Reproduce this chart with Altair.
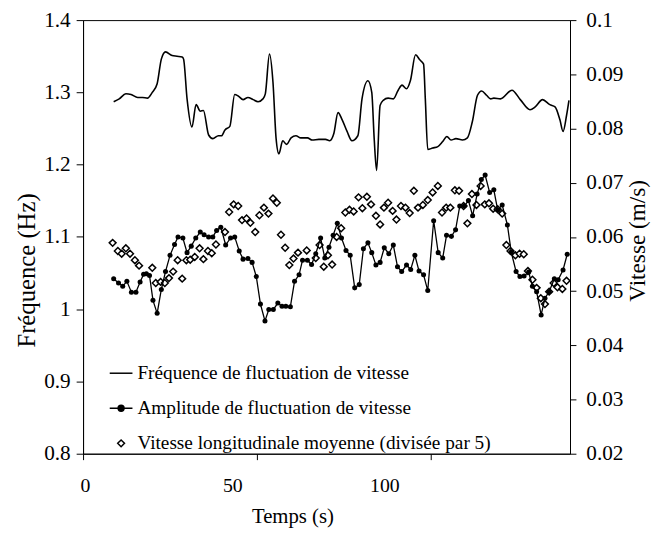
import altair as alt
import pandas as pd

# ---- data ----
freq_t = [8.8, 10.4, 12.3, 13.8, 15.7, 17.1, 18.5, 19.9, 21.3, 22.5, 23.7, 25.6, 27.0, 28.5, 28.9, 29.9,
          31.3, 32.5, 33.7, 34.6, 36.1, 37.3, 38.9, 39.8, 40.8, 42.2, 43.6, 44.6, 46.0, 47.4, 48.9, 50.3,
          51.7, 52.4, 53.6, 54.6, 55.5, 56.3, 57.4, 58.5, 59.8, 61.2, 62.6, 64.5, 65.9, 67.8, 69.7, 70.9,
          72.1, 73.3, 74.5, 75.9, 77.3, 79.0, 80.2, 81.9, 83.0, 83.7, 84.4, 85.4, 86.3, 87.7, 89.2, 90.6,
          91.7, 93.0, 94.1, 95.6, 96.8, 97.9, 98.4, 99.1, 100.5, 102.0, 103.4, 104.6, 105.8, 107.2, 109.1,
          110.5, 111.9, 113.4, 114.6, 116.0, 117.2, 118.1, 120.0, 123.3, 125.7, 128.5, 130.0, 132.1, 134.2,
          135.7, 137.1, 138.0, 139.0, 139.7]
freq_v = [1.287, 1.291, 1.298, 1.297, 1.293, 1.293, 1.292, 1.300, 1.312, 1.346, 1.356, 1.351, 1.350, 1.349,
          1.346, 1.291, 1.252, 1.283, 1.274, 1.275, 1.241, 1.236, 1.240, 1.240, 1.248, 1.253, 1.297, 1.295,
          1.290, 1.293, 1.290, 1.287, 1.291, 1.298, 1.353, 1.314, 1.236, 1.215, 1.233, 1.228, 1.237, 1.240,
          1.237, 1.237, 1.234, 1.235, 1.235, 1.233, 1.243, 1.272, 1.262, 1.246, 1.233, 1.240, 1.291, 1.316,
          1.300, 1.236, 1.192, 1.282, 1.289, 1.292, 1.291, 1.303, 1.310, 1.305, 1.316, 1.352, 1.345, 1.339,
          1.291, 1.221, 1.223, 1.225, 1.232, 1.239, 1.234, 1.236, 1.234, 1.237, 1.259, 1.296, 1.302, 1.296,
          1.291, 1.292, 1.291, 1.303, 1.290, 1.276, 1.280, 1.290, 1.283, 1.280, 1.262, 1.246, 1.268, 1.289]

amp_t = [8.8, 10.2, 11.4, 12.6, 13.9, 15.2, 16.4, 17.4, 18.2, 19.1, 20.1, 21.3, 22.5, 23.7, 25.0, 26.3,
         27.3, 28.7, 29.9, 31.1, 32.4, 33.7, 34.8, 36.1, 37.3, 38.4, 39.6, 41.0, 42.4, 43.6, 44.9, 46.0,
         47.4, 48.6, 49.8, 51.0, 52.3, 53.4, 54.7, 56.0, 57.2, 58.3, 59.6, 60.8, 62.1, 63.1, 64.5, 65.7,
         66.9, 68.3, 69.5, 70.7, 71.9, 73.1, 74.3, 75.6, 76.8, 78.1, 79.4, 80.6, 81.9, 83.0, 84.2, 85.4,
         86.6, 87.9, 89.2, 90.4, 91.6, 93.0, 94.2, 95.4, 96.6, 97.9, 99.1, 100.8, 102.1, 103.4, 104.5,
         105.9, 107.1, 108.3, 109.6, 110.8, 112.0, 113.3, 114.5, 115.6, 116.9, 118.1, 119.2, 120.5, 122.0,
         123.1, 124.5, 125.6, 126.8, 128.1, 129.2, 130.4, 131.7, 132.8, 134.0, 135.5, 136.6, 138.0, 139.2]
amp_v = [0.0523, 0.0515, 0.0509, 0.0518, 0.0498, 0.0498, 0.0517, 0.0531, 0.0532, 0.0529, 0.0483, 0.0459,
         0.0503, 0.0536, 0.0566, 0.0586, 0.0600, 0.0598, 0.0571, 0.0583, 0.0598, 0.0609, 0.0604, 0.0600,
         0.0600, 0.0612, 0.0618, 0.0585, 0.0598, 0.0600, 0.0574, 0.0559, 0.0560, 0.0553, 0.0527, 0.0476,
         0.0445, 0.0466, 0.0466, 0.0478, 0.0472, 0.0472, 0.0471, 0.0518, 0.0530, 0.0557, 0.0557, 0.0549,
         0.0569, 0.0598, 0.0561, 0.0581, 0.0603, 0.0625, 0.0598, 0.0575, 0.0566, 0.0506, 0.0512, 0.0578,
         0.0589, 0.0571, 0.0548, 0.0553, 0.0580, 0.0569, 0.0585, 0.0545, 0.0536, 0.0548, 0.0540, 0.0566,
         0.0537, 0.0530, 0.0501, 0.0630, 0.0571, 0.0561, 0.0603, 0.0601, 0.0613, 0.0657, 0.0657, 0.0667,
         0.0639, 0.0679, 0.0706, 0.0714, 0.0682, 0.0687, 0.0650, 0.0659, 0.0622, 0.0572, 0.0536, 0.0527,
         0.0528, 0.0535, 0.0509, 0.0499, 0.0456, 0.0487, 0.0499, 0.0523, 0.0521, 0.0539, 0.0568]

vit_t = [8.5, 10.0, 11.1, 12.3, 13.5, 14.9, 16.1, 19.9, 20.9, 22.3, 23.5, 24.7, 25.9, 27.2, 28.5, 29.7,
         30.8, 32.1, 33.5, 34.6, 35.9, 37.0, 38.2, 40.8, 42.0, 43.3, 44.6, 45.7, 47.0, 48.1, 49.5, 50.7,
         52.0, 53.3, 54.6, 55.7, 56.9, 58.1, 59.3, 60.5, 61.8, 64.3, 66.9, 68.0, 69.2, 70.4, 71.6, 72.9,
         74.2, 75.4, 76.6, 77.8, 79.2, 80.3, 81.6, 82.8, 84.2, 85.4, 86.5, 87.7, 89.0, 90.1, 91.4, 92.7,
         93.9, 95.1, 96.3, 97.7, 99.1, 100.5, 102.0, 103.2, 104.4, 105.6, 106.9, 108.1, 109.4, 110.5,
         111.8, 113.1, 114.3, 115.5, 116.7, 117.9, 119.2, 120.5, 121.7, 122.9, 124.3, 125.5, 126.7, 127.9,
         129.2, 130.4, 131.6, 132.8, 134.0, 135.3, 136.4, 137.8, 139.0]
vit_v = [0.0589, 0.0574, 0.0569, 0.0579, 0.0569, 0.0557, 0.0547, 0.0543, 0.0515, 0.0517, 0.0515, 0.0524,
         0.0536, 0.0557, 0.0523, 0.0557, 0.0558, 0.0563, 0.0579, 0.0559, 0.0574, 0.0570, 0.0586, 0.0609,
         0.0646, 0.0660, 0.0657, 0.0631, 0.0634, 0.0626, 0.0609, 0.0640, 0.0654, 0.0643, 0.0671, 0.0663,
         0.0604, 0.0580, 0.0548, 0.0560, 0.0571, 0.0575, 0.0561, 0.0585, 0.0545, 0.0566, 0.0549, 0.0600,
         0.0616, 0.0645, 0.0650, 0.0647, 0.0673, 0.0653, 0.0674, 0.0660, 0.0639, 0.0623, 0.0654, 0.0663,
         0.0648, 0.0632, 0.0657, 0.0654, 0.0644, 0.0685, 0.0654, 0.0659, 0.0668, 0.0682, 0.0694, 0.0645,
         0.0654, 0.0654, 0.0686, 0.0685, 0.0657, 0.0625, 0.0679, 0.0659, 0.0694, 0.0660, 0.0662, 0.0652,
         0.0651, 0.0643, 0.0585, 0.0574, 0.0566, 0.0569, 0.0568, 0.0537, 0.0521, 0.0506, 0.0487, 0.0476,
         0.0499, 0.0515, 0.0507, 0.0504, 0.0519]

series_names = ["Fréquence de fluctuation de vitesse",
                "Amplitude de fluctuation de vitesse",
                "Vitesse longitudinale moyenne (divisée par 5)"]
x_ticks = [0, 50, 100]
left_ticks = [0.8, 0.9, 1.0, 1.1, 1.2, 1.3, 1.4]
right_ticks = [0.02, 0.03, 0.04, 0.05, 0.06, 0.07, 0.08, 0.09, 0.1]

FONT = "Liberation Serif"
FS = 19.5

freq_df = pd.DataFrame({"t": freq_t, "v": freq_v})
amp_df = pd.DataFrame({"t": amp_t, "v": amp_v})
vit_df = pd.DataFrame({"t": vit_t, "v": vit_v})
leg_df = pd.DataFrame({"serie": series_names, "t": [-50, -50, -50]})

xscale = alt.Scale(domain=[0, 140], nice=False, zero=False)
# tick marks of the time axis (true scale)
x_axis = alt.Axis(values=x_ticks, title=None, tickSize=6, labels=False)
# label layer of the time axis (as printed in the reference, slightly compressed)
x_lab_axis = alt.Axis(values=x_ticks, title="Temps (s)", orient="bottom", ticks=False, domain=False,
                      labelFontSize=20, titleFontSize=21, labelPadding=22, labelOffset=-3,
                      titleX=212, titleY=64, titleBaseline="middle")

freq_line = alt.Chart(freq_df).mark_line(color="black", strokeWidth=1.6, interpolate="monotone").encode(
    x=alt.X("t:Q", scale=xscale, axis=x_axis),
    y=alt.Y("v:Q", scale=alt.Scale(domain=[0.8, 1.4], nice=False, zero=False),
            axis=alt.Axis(values=left_ticks, format="~g", title="Fréquence (Hz)", orient="left",
                          labelFontSize=21.5, titleFontSize=25,
                          tickSize=7, labelPadding=6, titleX=-57, titleY=253,
                          titleBaseline="middle", titleAlign="center")),
)

rscale = alt.Scale(domain=[0.02, 0.1], nice=False, zero=False)
r_axis = alt.Axis(values=right_ticks, format="~g", title="Vitesse (m/s)", orient="right",
                  labelFontSize=21.5, titleFontSize=23.5,
                  tickSize=6, labelPadding=10, titleAngle=270, titleX=68, titleY=223,
                  titleBaseline="middle", titleAlign="center")
vit_pts = alt.Chart(vit_df).mark_point(shape="diamond", filled=False, color="black", fill="white",
                                       size=48, strokeWidth=1.5, opacity=1).encode(
    x=alt.X("t:Q", scale=xscale, axis=None),
    y=alt.Y("v:Q", scale=rscale, axis=r_axis),
)
amp_line = alt.Chart(amp_df).mark_line(color="black", strokeWidth=1.3).encode(
    x=alt.X("t:Q", scale=xscale, axis=None),
    y=alt.Y("v:Q", scale=rscale, axis=r_axis),
)
amp_pts = alt.Chart(amp_df).mark_circle(color="black", size=26, opacity=1).encode(
    x=alt.X("t:Q", scale=xscale, axis=None),
    y=alt.Y("v:Q", scale=rscale, axis=r_axis),
)

shapes = ["M-1,0H1",
          "M-1,0H1M-0.26,0A0.26,0.26,0,1,1,0.26,0A0.26,0.26,0,1,1,-0.26,0Z",
          "M-0.3,0L0,-0.3L0.3,0L0,0.3Z"]
leg_props = dict(title=None, orient="none", legendX=26, legendY=345, labelFont=FONT,
                 labelFontSize=FS, labelColor="black", symbolSize=530, symbolStrokeWidth=1.5,
                 symbolOpacity=1, rowPadding=13.5, labelOffset=4, labelLimit=600)
legend_layer = alt.Chart(leg_df).mark_point(clip=True, strokeWidth=1.5).encode(
    x=alt.X("t:Q", scale=alt.Scale(domain=[0, 160], nice=False, zero=False), axis=x_lab_axis),
    shape=alt.Shape("serie:N", scale=alt.Scale(domain=series_names, range=shapes),
                    legend=alt.Legend(**leg_props)),
    fill=alt.Fill("serie:N", scale=alt.Scale(domain=series_names, range=["black", "black", "white"]),
                  legend=alt.Legend(**leg_props)),
    stroke=alt.Stroke("serie:N", scale=alt.Scale(domain=series_names, range=["black", "black", "black"]),
                      legend=alt.Legend(**leg_props)),
)

right = alt.layer(vit_pts, amp_line, amp_pts)
chart = alt.layer(freq_line, right, legend_layer).resolve_scale(y="independent", x="independent").properties(
    width=493, height=439,
    autosize=alt.AutoSizeParams(type="none"),
    padding={"left": 76, "top": 9, "right": 82, "bottom": 76},
).configure_view(stroke="black", strokeWidth=1).configure_axis(
    grid=False, domainColor="black", tickColor="black", labelColor="black", titleColor="black",
    labelFont=FONT, titleFont=FONT, labelFontSize=FS, titleFontSize=FS, titleFontWeight="normal",
    domainWidth=1, tickWidth=1,
)

chart.save("out.html", embed_options={"renderer": "svg", "actions": False})
